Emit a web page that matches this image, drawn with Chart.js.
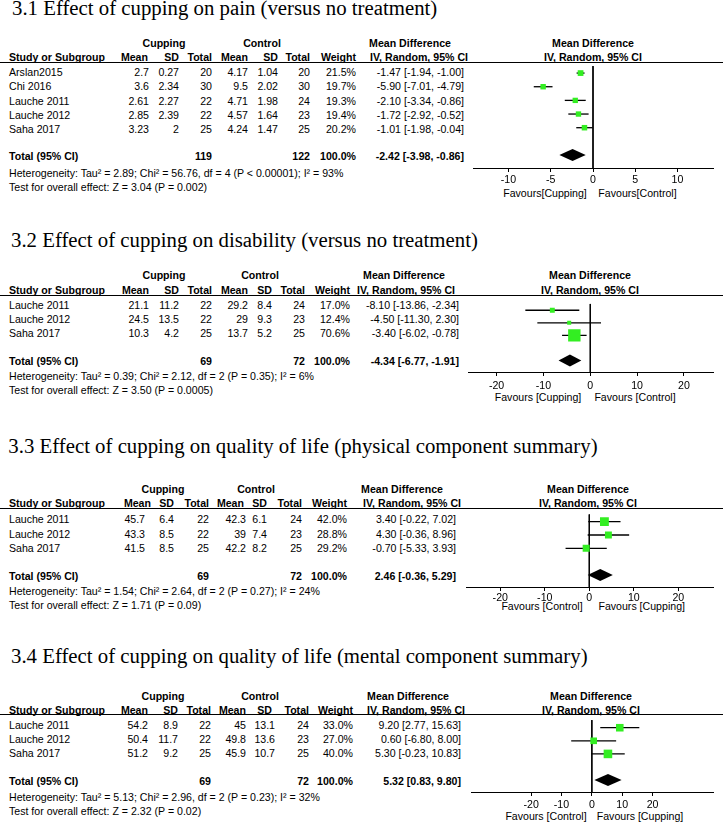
<!DOCTYPE html>
<html>
<head>
<meta charset="utf-8">
<script src="https://cdn.jsdelivr.net/npm/chart.js@4.4.1/dist/chart.umd.min.js"></script>
<style>
  body { margin: 0; background: #fff; width: 723px; height: 822px; position: relative; overflow: hidden;
         font-family: "Liberation Sans", Arial, sans-serif; font-size: 10.6px; color: #000; }
  .t { position: absolute; white-space: nowrap; line-height: 12px; height: 12px; }
  .b { font-weight: bold; }
  .ttl { position: absolute; white-space: nowrap; font-family: "Liberation Serif", "Times New Roman", serif;
         font-size: 20.8px; line-height: 24px; }
  .hl { position: absolute; left: 0; width: 723px; height: 1px; background: #000; }
  canvas { position: absolute; }
</style>
</head>
<body>
<script>
// ---- 3.1 pain ----
const painTitle = '3.1 Effect of cupping on pain (versus no treatment)';
const painStudies = ['Arslan2015', 'Chi 2016', 'Lauche 2011', 'Lauche 2012', 'Saha 2017'];
const painCupMean = [2.7, 3.6, 2.61, 2.85, 3.23];
const painCupSD = [0.27, 2.34, 2.27, 2.39, 2];
const painCupN = [20, 30, 22, 22, 25];
const painCtlMean = [4.17, 9.5, 4.71, 4.57, 4.24];
const painCtlSD = [1.04, 2.02, 1.98, 1.64, 1.47];
const painCtlN = [20, 30, 24, 23, 25];
const painWeight = [21.5, 19.7, 19.3, 19.4, 20.2];
const painMD = [-1.47, -5.90, -2.10, -1.72, -1.01];
const painLo = [-1.94, -7.01, -3.34, -2.92, -1.98];
const painHi = [-1.00, -4.79, -0.86, -0.52, -0.04];
const painTotalN = [119, 122];
const painPooled = [-2.42, -3.98, -0.86];
const painHet = 'Heterogeneity: Tau² = 2.89; Chi² = 56.76, df = 4 (P < 0.00001); I² = 93%';
const painZ = 'Test for overall effect: Z = 3.04 (P = 0.002)';
const painTicks = [-10, -5, 0, 5, 10];
const painRange = [-14.2, 14.2];
const painFavours = ['Favours[Cupping]', 'Favours[Control]'];

// ---- 3.2 disability ----
const disTitle = '3.2 Effect of cupping on disability (versus no treatment)';
const disStudies = ['Lauche 2011', 'Lauche 2012', 'Saha 2017'];
const disCupMean = [21.1, 24.5, 10.3];
const disCupSD = [11.2, 13.5, 4.2];
const disCupN = [22, 22, 25];
const disCtlMean = [29.2, 29, 13.7];
const disCtlSD = [8.4, 9.3, 5.2];
const disCtlN = [24, 23, 25];
const disWeight = [17.0, 12.4, 70.6];
const disMD = [-8.10, -4.50, -3.40];
const disLo = [-13.86, -11.30, -6.02];
const disHi = [-2.34, 2.30, -0.78];
const disTotalN = [69, 72];
const disPooled = [-4.34, -6.77, -1.91];
const disHet = 'Heterogeneity: Tau² = 0.39; Chi² = 2.12, df = 2 (P = 0.35); I² = 6%';
const disZ = 'Test for overall effect: Z = 3.50 (P = 0.0005)';
const disTicks = [-20, -10, 0, 10, 20];
const disRange = [-26.1, 26.2];
const disFavours = ['Favours [Cupping]', 'Favours [Control]'];

// ---- 3.3 physical QoL ----
const phyTitle = '3.3 Effect of cupping on quality of life (physical component summary)';
const phyStudies = ['Lauche 2011', 'Lauche 2012', 'Saha 2017'];
const phyCupMean = [45.7, 43.3, 41.5];
const phyCupSD = [6.4, 8.5, 8.5];
const phyCupN = [22, 22, 25];
const phyCtlMean = [42.3, 39, 42.2];
const phyCtlSD = [6.1, 7.4, 8.2];
const phyCtlN = [24, 23, 25];
const phyWeight = [42.0, 28.8, 29.2];
const phyMD = [3.40, 4.30, -0.70];
const phyLo = [-0.22, -0.36, -5.33];
const phyHi = [7.02, 8.96, 3.93];
const phyTotalN = [69, 72];
const phyPooled = [2.46, -0.36, 5.29];
const phyHet = 'Heterogeneity: Tau² = 1.54; Chi² = 2.64, df = 2 (P = 0.27); I² = 24%';
const phyZ = 'Test for overall effect: Z = 1.71 (P = 0.09)';
const phyTicks = [-20, -10, 0, 10, 20];
const phyRange = [-27.7, 27.8];
const phyFavours = ['Favours [Control]', 'Favours [Cupping]'];

// ---- 3.4 mental QoL ----
const menTitle = '3.4 Effect of cupping on quality of life (mental component summary)';
const menStudies = ['Lauche 2011', 'Lauche 2012', 'Saha 2017'];
const menCupMean = [54.2, 50.4, 51.2];
const menCupSD = [8.9, 11.7, 9.2];
const menCupN = [22, 22, 25];
const menCtlMean = [45, 49.8, 45.9];
const menCtlSD = [13.1, 13.6, 10.7];
const menCtlN = [24, 23, 25];
const menWeight = [33.0, 27.0, 40.0];
const menMD = [9.20, 0.60, 5.30];
const menLo = [2.77, -6.80, -0.23];
const menHi = [15.63, 8.00, 10.83];
const menTotalN = [69, 72];
const menPooled = [5.32, 0.83, 9.80];
const menHet = 'Heterogeneity: Tau² = 5.13; Chi² = 2.96, df = 2 (P = 0.23); I² = 32%';
const menZ = 'Test for overall effect: Z = 2.32 (P = 0.02)';
const menTicks = [-20, -10, 0, 10, 20];
const menRange = [-39.8, 39.9];
const menFavours = ['Favours [Control]', 'Favours [Cupping]'];

const panels = [
  { title: painTitle, studies: painStudies, cols: [painCupMean, painCupSD, painCupN, painCtlMean, painCtlSD, painCtlN],
    weight: painWeight, md: painMD, lo: painLo, hi: painHi, totalN: painTotalN, pooled: painPooled,
    het: painHet, z: painZ, ticks: painTicks, range: painRange, favours: painFavours },
  { title: disTitle, studies: disStudies, cols: [disCupMean, disCupSD, disCupN, disCtlMean, disCtlSD, disCtlN],
    weight: disWeight, md: disMD, lo: disLo, hi: disHi, totalN: disTotalN, pooled: disPooled,
    het: disHet, z: disZ, ticks: disTicks, range: disRange, favours: disFavours },
  { title: phyTitle, studies: phyStudies, cols: [phyCupMean, phyCupSD, phyCupN, phyCtlMean, phyCtlSD, phyCtlN],
    weight: phyWeight, md: phyMD, lo: phyLo, hi: phyHi, totalN: phyTotalN, pooled: phyPooled,
    het: phyHet, z: phyZ, ticks: phyTicks, range: phyRange, favours: phyFavours },
  { title: menTitle, studies: menStudies, cols: [menCupMean, menCupSD, menCupN, menCtlMean, menCtlSD, menCtlN],
    weight: menWeight, md: menMD, lo: menLo, hi: menHi, totalN: menTotalN, pooled: menPooled,
    het: menHet, z: menZ, ticks: menTicks, range: menRange, favours: menFavours }
];

// page positions for each panel
const layouts = [
  { titleX: 12, titleBase: 15, h1: 42.7, h2: 57, line: 62, row0: 72, rowSp: 14.25, tot: 156, het: 173, z: 186.7,
    hdr: [148, 179, 212, 248, 278, 310, 356, 468], val: [149, 179, 212, 248, 278, 310, 356, 464],
    grp: [164, 262, 410], rh: 593, sq0: 69.3, sp: 14.2, axis: 168, padL: 33, tickPad: 2, fav: [545, 637.5], favY: 193 },
  { titleX: 11, titleBase: 247, h1: 274.5, h2: 289.5, line: 295, row0: 304.5, rowSp: 14.35, tot: 361, het: 376, z: 390,
    hdr: [149, 179, 212, 248, 272, 305, 350, 455], val: [149, 179, 212, 248, 272, 305, 350, 459],
    grp: [164, 260, 404], rh: 590, sq0: 302.3, sp: 14.2, axis: 372, padL: 28, tickPad: 4, fav: [538, 635], favY: 396.7 },
  { titleX: 8.3, titleBase: 453, h1: 489, h2: 503.3, line: 508, row0: 519.3, rowSp: 14.2, tot: 576, het: 591, z: 605,
    hdr: [151, 174, 209, 244, 267, 302, 347, 461], val: [145, 174, 209, 246, 267, 302, 347, 456],
    grp: [163, 256, 402], rh: 588, sq0: 516, sp: 14.5, axis: 587, padL: 26, tickPad: 1, fav: [542, 641.7], favY: 606 },
  { titleX: 11, titleBase: 663, h1: 696, h2: 710, line: 714, row0: 725, rowSp: 14.1, tot: 780.7, het: 796.7, z: 810.7,
    hdr: [148, 178, 211, 246, 272, 309, 353, 465], val: [148, 178, 211, 246, 275, 309, 353, 461],
    grp: [163, 260, 408], rh: 591, sq0: 722.3, sp: 14.2, axis: 792, padL: 31, tickPad: 3, fav: [546, 640], favY: 815.5 }
];

const FONT = '"Liberation Sans", Arial, sans-serif';
const GREEN = '#33ee22';

function txt(x, y, s, align, bold) {
  const d = document.createElement('div');
  d.className = 't' + (bold ? ' b' : '');
  d.textContent = s;
  d.style.left = x + 'px';
  d.style.top = (y - 6) + 'px';
  if (align === 'r') d.style.transform = 'translateX(-100%)';
  else if (align === 'c') d.style.transform = 'translateX(-50%)';
  document.body.appendChild(d);
}

function ci(m, l, h) {
  return m.toFixed(2) + ' [' + l.toFixed(2) + ', ' + h.toFixed(2) + ']';
}

// filled diamond for the pooled estimate
const diamondPlugin = {
  id: 'diamond',
  afterDatasetsDraw(chart, args, opts) {
    const { ctx, scales } = chart;
    const y = scales.y.getPixelForValue(opts.row);
    const xl = scales.x.getPixelForValue(opts.lo);
    const xm = scales.x.getPixelForValue(opts.md);
    const xr = scales.x.getPixelForValue(opts.hi);
    ctx.save();
    ctx.fillStyle = '#000';
    ctx.beginPath();
    ctx.moveTo(xl, y);
    ctx.lineTo(xm, y - 6);
    ctx.lineTo(xr, y);
    ctx.lineTo(xm, y + 6);
    ctx.closePath();
    ctx.fill();
    ctx.restore();
  }
};

panels.forEach((p, k) => {
  const L = layouts[k];

  const t = document.createElement('div');
  t.className = 'ttl';
  t.textContent = p.title;
  t.style.left = L.titleX + 'px';
  t.style.top = (L.titleBase - 19) + 'px';
  document.body.appendChild(t);

  txt(L.grp[0], L.h1, 'Cupping', 'c', true);
  txt(L.grp[1], L.h1, 'Control', 'c', true);
  txt(L.grp[2], L.h1, 'Mean Difference', 'c', true);
  txt(L.rh, L.h1, 'Mean Difference', 'c', true);
  txt(9, L.h2, 'Study or Subgroup', 'l', true);
  ['Mean', 'SD', 'Total', 'Mean', 'SD', 'Total', 'Weight', 'IV, Random, 95% CI']
    .forEach((h, j) => txt(L.hdr[j], L.h2, h, 'r', true));
  txt(L.rh, L.h2, 'IV, Random, 95% CI', 'c', true);

  const hl = document.createElement('div');
  hl.className = 'hl';
  hl.style.top = L.line + 'px';
  document.body.appendChild(hl);

  p.studies.forEach((s, i) => {
    const y = L.row0 + i * L.rowSp;
    txt(9, y, s, 'l', false);
    p.cols.forEach((c, j) => txt(L.val[j], y, String(c[i]), 'r', false));
    txt(L.val[6], y, p.weight[i].toFixed(1) + '%', 'r', false);
    txt(L.val[7], y, ci(p.md[i], p.lo[i], p.hi[i]), 'r', false);
  });

  txt(9, L.tot, 'Total (95% CI)', 'l', true);
  txt(L.val[2], L.tot, String(p.totalN[0]), 'r', true);
  txt(L.val[5], L.tot, String(p.totalN[1]), 'r', true);
  txt(L.val[6], L.tot, '100.0%', 'r', true);
  txt(L.val[7], L.tot, ci(p.pooled[0], p.pooled[1], p.pooled[2]), 'r', true);
  txt(9, L.het, p.het, 'l', false);
  txt(9, L.z, p.z, 'l', false);

  txt(L.fav[0], L.favY, p.favours[0], 'c', false);
  txt(L.fav[1], L.favY, p.favours[1], 'c', false);

  // forest plot
  const cv = document.createElement('canvas');
  const plotH = L.axis - L.line;
  cv.width = 283;
  cv.height = plotH + 40;
  cv.style.left = '440px';
  cv.style.top = L.line + 'px';
  document.body.appendChild(cv);

  const n = p.md.length;
  const yMin = -(L.sq0 - L.line) / L.sp;
  const yMax = (L.axis - L.sq0) / L.sp;
  const boxR = p.weight.map(w => 0.78 * Math.pow(w, 0.65) / Math.SQRT2);

  const datasets = [{
    data: p.md.map((m, i) => ({ x: m, y: i })),
    pointStyle: 'rect',
    pointRadius: boxR,
    pointHoverRadius: boxR,
    backgroundColor: GREEN,
    borderWidth: 0
  }];
  p.lo.forEach((l, i) => {
    datasets.push({
      data: [{ x: l, y: i }, { x: p.hi[i], y: i }],
      showLine: true, borderColor: '#000', borderWidth: 1.3, pointRadius: 0
    });
  });
  datasets.push({
    data: [{ x: 0, y: yMin }, { x: 0, y: yMax }],
    showLine: true, borderColor: '#000', borderWidth: 1, pointRadius: 0
  });

  new Chart(cv.getContext('2d'), {
    type: 'scatter',
    data: { datasets },
    plugins: [diamondPlugin],
    options: {
      responsive: false,
      animation: false,
      devicePixelRatio: 1,
      events: [],
      layout: { padding: { left: L.padL, right: 10, top: 0, bottom: 0 } },
      plugins: {
        legend: { display: false },
        tooltip: { enabled: false },
        diamond: { row: n + 1, md: p.pooled[0], lo: p.pooled[1], hi: p.pooled[2] }
      },
      scales: {
        x: {
          type: 'linear',
          min: p.range[0],
          max: p.range[1],
          afterBuildTicks: s => { s.ticks = p.ticks.map(v => ({ value: v })); },
          afterFit: s => { s.height = 40; },
          grid: { drawOnChartArea: false, drawTicks: true, tickLength: 4, color: '#000' },
          border: { display: true, color: '#000', width: 1 },
          ticks: { color: '#000', padding: L.tickPad, maxRotation: 0, autoSkip: false,
                   font: { family: FONT, size: 10.6 } }
        },
        y: { type: 'linear', display: false, reverse: true, min: yMin, max: yMax }
      }
    }
  });
});
</script>
</body>
</html>
